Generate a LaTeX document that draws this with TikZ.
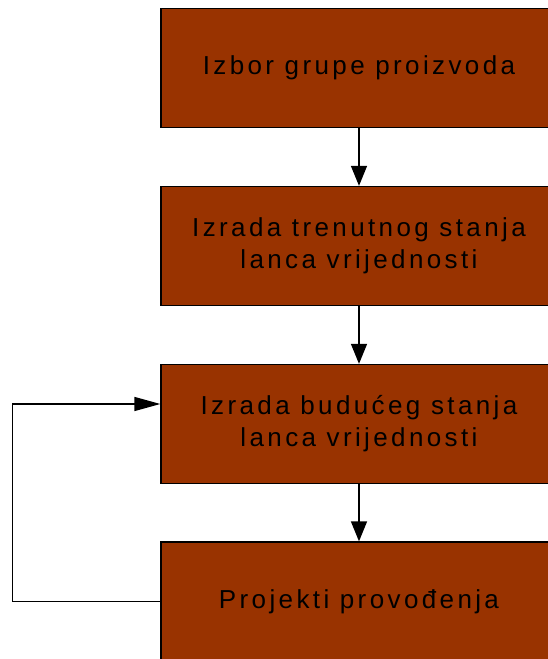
\documentclass[tikz,border=0pt]{standalone}
\usepackage{fontspec}
\setmainfont{Liberation Sans}[LetterSpace=13]
\usetikzlibrary{positioning}
\usetikzlibrary{arrows.meta}
\definecolor{boxbrown}{HTML}{993300}
\tikzset{
    stepnode/.style = {rectangle, line width=1.3pt, draw=black, align=center, fill=boxbrown,
        minimum width=396pt, minimum height=119pt, inner sep=0pt,
        font=\fontsize{26}{32}\selectfont, text=black},
    edgen/.style = {-{Triangle[length=20pt,width=16pt]}, line width=1.4pt, black},
    edgef/.style = {-{Triangle[length=26pt,width=14pt]}, line width=1.4pt, black}, % feedback
}

\begin{document}
\begin{tikzpicture}[x=1pt,y=1pt]
\path[use as bounding box] (0,0) rectangle (547,659);
\node[stepnode] at (359, 591.0) (a) {Izbor grupe proizvoda};
\node[stepnode] at (359, 413.0) (b) {Izrada trenutnog stanja\\lanca vrijednosti};
\node[stepnode] at (359, 235.0) (c) {Izrada budućeg stanja\\lanca vrijednosti};
\node[stepnode] at (359, 57.5) (d) {Projekti provođenja};
\coordinate (fb) at (12.3, 255);
%
\draw[edgen] (a) -- (b);
\draw[edgen] (b) -- (c);
\draw[edgen] (c) -- (d);
\draw[edgef] (d.west) -| (fb) -- (c.west |- fb);
\end{tikzpicture}
\end{document}
